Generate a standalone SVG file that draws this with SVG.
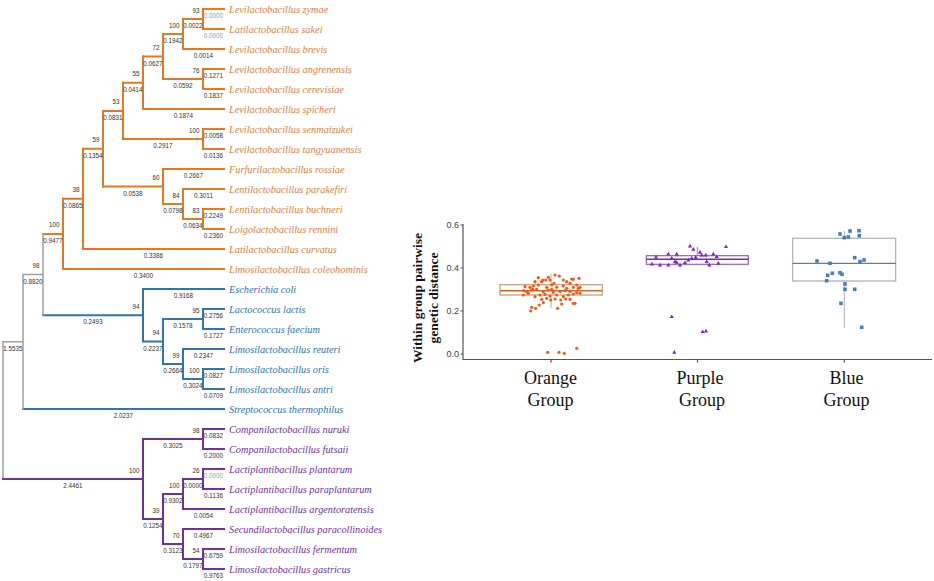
<svg xmlns="http://www.w3.org/2000/svg" width="934" height="581" viewBox="0 0 934 581">
<style>
.o{stroke:#E87722;stroke-width:2;fill:none;stroke-linecap:square}
.b{stroke:#2E75B6;stroke-width:2;fill:none;stroke-linecap:square}
.p{stroke:#7030A0;stroke-width:2;fill:none;stroke-linecap:square}
.g{stroke:#A0A0A0;stroke-width:1.5;fill:none;stroke-linecap:square}
.bl{font-family:"Liberation Sans",Arial,sans-serif;font-size:6.3px;fill:#333;text-anchor:middle}
.bl.z{fill:#9a9a9a}
.bs{font-family:"Liberation Sans",Arial,sans-serif;font-size:6.3px;fill:#333;text-anchor:end}
.lf{font-family:"Liberation Serif","Times New Roman",serif;font-style:italic;font-size:10.3px}
.lo{fill:#E3803F}.lb{fill:#2E74B5}.lp{fill:#7030A0}
.ax{stroke:#555;stroke-width:1.2;fill:none}
.tk{font-family:"Liberation Sans",Arial,sans-serif;font-size:9px;fill:#444;text-anchor:end}
.xl{font-family:"Liberation Serif","Times New Roman",serif;font-size:18px;fill:#111;text-anchor:middle}
.yl{font-family:"Liberation Serif","Times New Roman",serif;font-size:13.5px;font-weight:bold;fill:#111;text-anchor:middle}
</style>
<defs>
<circle id="dot" r="1.6" fill="#F05A14"/>
<path id="tri" d="M0,-2.3 L2.1,1.4 L-2.1,1.4Z" fill="#8020D0"/>
<rect id="sq" x="-1.8" y="-1.8" width="3.6" height="3.6" fill="#4A7EBB"/>
</defs>
<rect width="934" height="581" fill="#fff"/>

<g id="connectors">
<path class="o" d="M203,9H224M203,29H224M183,49H224M203,69H224M203,89H224M143,109H224M203,129H224M203,149H224M163,169H224M183,189H224M203,209H224M203,229H224M83,249H224M63,269H224"/>
<path class="o" d="M203,9V29M183,19V49M203,69V89M163,34V79M143,56.5V109M203,129V149M123,82.75V139M203,209V229M183,189V219M163,169V204M103,110.9V186.5M83,148.7V249M63,198.8V269"/>
<path class="o" d="M183,19H203M163,34H183M163,79H203M143,56.5H163M123,82.75H143M123,139H203M103,110.9H123M103,186.5H163M163,204H183M183,219H203M83,148.7H103M63,198.8H83M43,233.9H63"/>
<path class="b" d="M143,289H224M203,309H224M203,329H224M183,349H224M203,369H224M203,389H224M23,409H224"/>
<path class="b" d="M203,309V329M163,319H203M203,369V389M183,379H203M183,349V379M163,364H183M163,319V364M143,341.5H163M143,289V341.5M43,315.25H143"/>
<path class="g" d="M43,233.9V315.25M23,274.6H43M23,274.6V409M3,341.8H23M3,341.8V479"/>
<path class="p" d="M203,429H224M203,449H224M203,469H224M203,489H224M183,509H224M183,529H224M203,549H224M203,569H224"/>
<path class="p" d="M203,429V449M143,439H203M203,469V489M183,479H203M183,479V509M163,494H183M203,549V569M183,559H203M183,529V559M163,544H183M163,494V544M143,519H163M143,439V519M3,479H143"/>
<g id="branch-lengths">
<text class="bl z" x="213.5" y="18">0.0000</text>
<text class="bl z" x="213.5" y="38">0.0000</text>
<text class="bl" x="193" y="28">0.0022</text>
<text class="bl" x="173" y="43">0.1942</text>
<text class="bl" x="203.5" y="58">0.0014</text>
<text class="bl" x="213.5" y="78">0.1271</text>
<text class="bl" x="213.5" y="98">0.1837</text>
<text class="bl" x="183" y="88">0.0592</text>
<text class="bl" x="153" y="65.5">0.0627</text>
<text class="bl" x="133" y="91.75">0.0414</text>
<text class="bl" x="183.5" y="118">0.1874</text>
<text class="bl" x="113" y="119.9">0.0831</text>
<text class="bl" x="213.5" y="138">0.0058</text>
<text class="bl" x="213.5" y="158">0.0136</text>
<text class="bl" x="163" y="148">0.2917</text>
<text class="bl" x="93" y="157.7">0.1354</text>
<text class="bl" x="193.5" y="178">0.2667</text>
<text class="bl" x="133" y="195.5">0.0538</text>
<text class="bl" x="203.5" y="198">0.3011</text>
<text class="bl" x="173" y="213">0.0798</text>
<text class="bl" x="213.5" y="218">0.2249</text>
<text class="bl" x="213.5" y="238">0.2360</text>
<text class="bl" x="193" y="228">0.0634</text>
<text class="bl" x="73" y="207.8">0.0865</text>
<text class="bl" x="153.5" y="258">0.3386</text>
<text class="bl" x="53" y="242.9">0.9477</text>
<text class="bl" x="143.5" y="278">0.3400</text>
<text class="bl" x="33" y="283.6">0.8820</text>
<text class="bl" x="183.5" y="298">0.9168</text>
<text class="bl" x="93" y="324.25">0.2493</text>
<text class="bl" x="213.5" y="318">0.2756</text>
<text class="bl" x="213.5" y="338">0.1727</text>
<text class="bl" x="183" y="328">0.1578</text>
<text class="bl" x="153" y="350.5">0.2237</text>
<text class="bl" x="203.5" y="358">0.2347</text>
<text class="bl" x="173" y="373">0.2664</text>
<text class="bl" x="213.5" y="378">0.0827</text>
<text class="bl" x="213.5" y="398">0.0709</text>
<text class="bl" x="193" y="388">0.3024</text>
<text class="bl" x="13" y="350.8">1.5535</text>
<text class="bl" x="123.5" y="418">2.0237</text>
<text class="bl" x="213.5" y="438">0.0832</text>
<text class="bl" x="213.5" y="458">0.2000</text>
<text class="bl" x="173" y="448">0.3025</text>
<text class="bl" x="73" y="488">2.4461</text>
<text class="bl z" x="213.5" y="478">0.0000</text>
<text class="bl" x="213.5" y="498">0.1136</text>
<text class="bl" x="193" y="488">0.0000</text>
<text class="bl" x="173" y="503">0.9302</text>
<text class="bl" x="203.5" y="518">0.0054</text>
<text class="bl" x="153" y="528">0.1254</text>
<text class="bl" x="203.5" y="538">0.4967</text>
<text class="bl" x="173" y="553">0.3123</text>
<text class="bl" x="213.5" y="558">0.6759</text>
<text class="bl" x="213.5" y="578">0.9763</text>
<text class="bl" x="193" y="568">0.1797</text>
</g>
</g>

<g id="node-A"><text class="bs" x="199.5" y="12.5">93</text></g>
<g id="node-B"><text class="bs" x="179.5" y="27.5">100</text></g>
<g id="node-C"><text class="bs" x="199.5" y="72.5">76</text></g>
<g id="node-D"><text class="bs" x="159.5" y="50">72</text></g>
<g id="node-E"><text class="bs" x="139.5" y="76.25">55</text></g>
<g id="node-F"><text class="bs" x="199.5" y="132.5">100</text></g>
<g id="node-G"><text class="bs" x="119.5" y="104.4">53</text></g>
<g id="node-K"><text class="bs" x="99.5" y="142.2">59</text></g>
<g id="node-J"><text class="bs" x="159.5" y="180">60</text></g>
<g id="node-I"><text class="bs" x="179.5" y="197.5">84</text></g>
<g id="node-H"><text class="bs" x="199.5" y="212.5">83</text></g>
<g id="node-L"><text class="bs" x="79.5" y="192.3">38</text></g>
<g id="node-M"><text class="bs" x="59.5" y="227.4">100</text></g>
<g id="node-S"><text class="bs" x="39.5" y="268.1">98</text></g>
<g id="node-R"><text class="bs" x="139.5" y="308.75">94</text></g>
<g id="node-N"><text class="bs" x="199.5" y="312.5">95</text></g>
<g id="node-Q"><text class="bs" x="159.5" y="335">94</text></g>
<g id="node-P"><text class="bs" x="179.5" y="357.5">99</text></g>
<g id="node-O"><text class="bs" x="199.5" y="372.5">100</text></g>
<g id="node-U"><text class="bs" x="199.5" y="432.5">98</text></g>
<g id="node-AA"><text class="bs" x="139.5" y="472.5">100</text></g>
<g id="node-V"><text class="bs" x="199.5" y="472.5">26</text></g>
<g id="node-W"><text class="bs" x="179.5" y="487.5">100</text></g>
<g id="node-Z"><text class="bs" x="159.5" y="512.5">39</text></g>
<g id="node-Y"><text class="bs" x="179.5" y="537.5">70</text></g>
<g id="node-X"><text class="bs" x="199.5" y="552.5">54</text></g>

<g id="leaf-1"><text class="lf lo" x="229" y="12.5">Levilactobacillus zymae</text></g>
<g id="leaf-2"><text class="lf lo" x="229" y="32.5">Latilactobacillus sakei</text></g>
<g id="leaf-3"><text class="lf lo" x="229" y="52.5">Levilactobacillus brevis</text></g>
<g id="leaf-4"><text class="lf lo" x="229" y="72.5">Levilactobacillus angrenensis</text></g>
<g id="leaf-5"><text class="lf lo" x="229" y="92.5">Levilactobacillus cerevisiae</text></g>
<g id="leaf-6"><text class="lf lo" x="229" y="112.5">Levilactobacillus spicheri</text></g>
<g id="leaf-7"><text class="lf lo" x="229" y="132.5">Levilactobacillus senmaizukei</text></g>
<g id="leaf-8"><text class="lf lo" x="229" y="152.5">Levilactobacillus tangyuanensis</text></g>
<g id="leaf-9"><text class="lf lo" x="229" y="172.5">Furfurilactobacillus rossiae</text></g>
<g id="leaf-10"><text class="lf lo" x="229" y="192.5">Lentilactobacillus parakefiri</text></g>
<g id="leaf-11"><text class="lf lo" x="229" y="212.5">Lentilactobacillus buchneri</text></g>
<g id="leaf-12"><text class="lf lo" x="229" y="232.5">Loigolactobacillus rennini</text></g>
<g id="leaf-13"><text class="lf lo" x="229" y="252.5">Latilactobacillus curvatus</text></g>
<g id="leaf-14"><text class="lf lo" x="229" y="272.5">Limosilactobacillus coleohominis</text></g>
<g id="leaf-15"><text class="lf lb" x="229" y="292.5">Escherichia coli</text></g>
<g id="leaf-16"><text class="lf lb" x="229" y="312.5">Lactococcus lactis</text></g>
<g id="leaf-17"><text class="lf lb" x="229" y="332.5">Enterococcus faecium</text></g>
<g id="leaf-18"><text class="lf lb" x="229" y="352.5">Limosilactobacillus reuteri</text></g>
<g id="leaf-19"><text class="lf lb" x="229" y="372.5">Limosilactobacillus oris</text></g>
<g id="leaf-20"><text class="lf lb" x="229" y="392.5">Limosilactobacillus antri</text></g>
<g id="leaf-21"><text class="lf lb" x="229" y="412.5">Streptococcus thermophilus</text></g>
<g id="leaf-22"><text class="lf lp" x="229" y="432.5">Companilactobacillus nuruki</text></g>
<g id="leaf-23"><text class="lf lp" x="229" y="452.5">Companilactobacillus futsaii</text></g>
<g id="leaf-24"><text class="lf lp" x="229" y="472.5">Lactiplantibacillus plantarum</text></g>
<g id="leaf-25"><text class="lf lp" x="229" y="492.5">Lactiplantibacillus paraplantarum</text></g>
<g id="leaf-26"><text class="lf lp" x="229" y="512.5">Lactiplantibacillus argentoratensis</text></g>
<g id="leaf-27"><text class="lf lp" x="229" y="532.5">Secundilactobacillus paracollinoides</text></g>
<g id="leaf-28"><text class="lf lp" x="229" y="552.5">Limosilactobacillus fermentum</text></g>
<g id="leaf-29"><text class="lf lp" x="229" y="572.5">Limosilactobacillus gastricus</text></g>

<g id="chart">
<path class="ax" d="M463,224V359.5H932"/>
<path class="ax" d="M460.5,225H463M460.5,268H463M460.5,311H463M460.5,354H463M551,359.5V362.5M697.5,359.5V362.5M844.3,359.5V362.5"/>
<text class="tk" x="459" y="228.2">0.6</text>
<text class="tk" x="459" y="271.2">0.4</text>
<text class="tk" x="459" y="314.2">0.2</text>
<text class="tk" x="459" y="357.2">0.0</text>
<text class="yl" transform="translate(422,298) rotate(-90)">Within group pairwise</text>
<text class="yl" transform="translate(438,298) rotate(-90)">genetic distance</text>
<text class="xl" x="550.5" y="384">Orange</text>
<text class="xl" x="550.5" y="406">Group</text>
<text class="xl" x="700" y="384">Purple</text>
<text class="xl" x="702" y="406">Group</text>
<text class="xl" x="846.5" y="384">Blue</text>
<text class="xl" x="846.5" y="406">Group</text>

<g id="box-orange">
<path d="M551,274V284.7M551,295V308" stroke="#C0A890" stroke-width="1" fill="none"/>
<rect x="500" y="284.7" width="102.3" height="10.3" fill="none" stroke="#C8A080" stroke-width="1.3"/>
<path d="M500,290.7H602.3" stroke="#D0661E" stroke-width="1.5"/>
<use href="#dot" x="530.7" y="311"/><use href="#dot" x="531.7" y="307.3"/><use href="#dot" x="535.7" y="308.3"/><use href="#dot" x="539.3" y="305"/><use href="#dot" x="543.3" y="302.7"/><use href="#dot" x="550.7" y="300"/><use href="#dot" x="557.7" y="308.3"/><use href="#dot" x="561.7" y="304"/><use href="#dot" x="565.7" y="299"/><use href="#dot" x="573.3" y="303.3"/><use href="#dot" x="575" y="303.3"/><use href="#dot" x="555" y="275"/><use href="#dot" x="559.3" y="276"/><use href="#dot" x="579" y="278.3"/><use href="#dot" x="573.3" y="279.3"/><use href="#dot" x="538.3" y="277.7"/><use href="#dot" x="545.7" y="280"/><use href="#dot" x="550" y="280"/><use href="#dot" x="535" y="281.7"/><use href="#dot" x="541.7" y="281.7"/><use href="#dot" x="566.7" y="281.7"/><use href="#dot" x="570" y="283.3"/><use href="#dot" x="525" y="286.7"/><use href="#dot" x="530" y="287.3"/><use href="#dot" x="533.3" y="286"/><use href="#dot" x="546.7" y="287.3"/><use href="#dot" x="551.7" y="285"/><use href="#dot" x="556.7" y="287.3"/><use href="#dot" x="563.3" y="286"/><use href="#dot" x="573.3" y="287.3"/><use href="#dot" x="578.3" y="288.3"/><use href="#dot" x="524" y="290.7"/><use href="#dot" x="531.7" y="290"/><use href="#dot" x="536.7" y="289.3"/><use href="#dot" x="543.3" y="291.7"/><use href="#dot" x="548.3" y="290"/><use href="#dot" x="553.3" y="292.3"/><use href="#dot" x="560" y="291.7"/><use href="#dot" x="565" y="290.7"/><use href="#dot" x="570" y="291.7"/><use href="#dot" x="576.7" y="292.7"/><use href="#dot" x="580" y="293.3"/><use href="#dot" x="523.3" y="295"/><use href="#dot" x="528.3" y="293.3"/><use href="#dot" x="540" y="295"/><use href="#dot" x="545" y="294.3"/><use href="#dot" x="550" y="296"/><use href="#dot" x="556.7" y="295"/><use href="#dot" x="563.3" y="296.7"/><use href="#dot" x="568.3" y="295"/><use href="#dot" x="573.3" y="294"/><use href="#dot" x="541.7" y="299.3"/><use href="#dot" x="546.7" y="298.3"/><use href="#dot" x="535" y="296.7"/><use href="#dot" x="555" y="299"/><use href="#dot" x="560.7" y="300"/><use href="#dot" x="570" y="299.3"/><use href="#dot" x="526.7" y="291.7"/><use href="#dot" x="551.7" y="289.3"/><use href="#dot" x="566.7" y="288.3"/><use href="#dot" x="538.3" y="285"/><use href="#dot" x="548.3" y="277.3"/><use href="#dot" x="563.3" y="280"/><use href="#dot" x="542.7" y="280"/><use href="#dot" x="532.7" y="289.3"/><use href="#dot" x="576.7" y="285"/><use href="#dot" x="554" y="283.3"/><use href="#dot" x="580" y="287.3"/><use href="#dot" x="571.7" y="279"/>
<use href="#dot" x="547.7" y="352.3"/><use href="#dot" x="559" y="352.3"/><use href="#dot" x="564.3" y="353.3"/><use href="#dot" x="576.7" y="348.3"/>
</g>

<g id="box-purple">
<path d="M697.3,246.7V255.7" stroke="#9A80B0" stroke-width="1" fill="none"/>
<rect x="646.3" y="255.7" width="102" height="8.6" fill="none" stroke="#9060B8" stroke-width="1.2"/>
<path d="M646.3,259.3H748.3" stroke="#7030A0" stroke-width="1.5"/>
<use href="#tri" x="668.3" y="254"/><use href="#tri" x="676.7" y="254"/><use href="#tri" x="690" y="246"/><use href="#tri" x="693.3" y="249.3"/><use href="#tri" x="700" y="252.3"/><use href="#tri" x="705.7" y="255"/><use href="#tri" x="713.3" y="254"/><use href="#tri" x="716.7" y="256.7"/><use href="#tri" x="726" y="246.7"/><use href="#tri" x="695.7" y="257.3"/><use href="#tri" x="688.3" y="260"/><use href="#tri" x="691.7" y="258.3"/><use href="#tri" x="671.7" y="258.3"/><use href="#tri" x="675" y="261.7"/><use href="#tri" x="676.7" y="262.3"/><use href="#tri" x="680" y="265"/><use href="#tri" x="685" y="262.7"/><use href="#tri" x="668.3" y="265"/><use href="#tri" x="706.7" y="261.7"/><use href="#tri" x="709.3" y="265"/><use href="#tri" x="718.3" y="263.3"/><use href="#tri" x="701.7" y="255"/><use href="#tri" x="660" y="265"/><use href="#tri" x="652" y="264"/><use href="#tri" x="656" y="257"/>
<use href="#tri" x="671.7" y="316.7"/><use href="#tri" x="702.7" y="331.7"/><use href="#tri" x="706" y="331"/><use href="#tri" x="674.3" y="352.3"/>
</g>

<g id="box-blue">
<path d="M844.3,231V238.3M844.3,281V327.7" stroke="#A8B0B8" stroke-width="1" fill="none"/>
<rect x="792.7" y="238.3" width="103" height="42.7" fill="none" stroke="#A8B0B8" stroke-width="1.2"/>
<path d="M792.7,263.3H895.7" stroke="#5580B0" stroke-width="1.3"/>
<use href="#sq" x="840" y="234"/><use href="#sq" x="850" y="231"/><use href="#sq" x="859" y="230.7"/><use href="#sq" x="859.3" y="235.7"/><use href="#sq" x="844.3" y="237.7"/><use href="#sq" x="848.3" y="237"/><use href="#sq" x="817" y="261"/><use href="#sq" x="830" y="263.3"/><use href="#sq" x="854.7" y="257.7"/><use href="#sq" x="860" y="261.7"/><use href="#sq" x="864" y="260"/><use href="#sq" x="832.3" y="273.3"/><use href="#sq" x="827.7" y="275.3"/><use href="#sq" x="840" y="272.7"/><use href="#sq" x="842" y="274.3"/><use href="#sq" x="826.7" y="280.7"/><use href="#sq" x="845" y="284"/><use href="#sq" x="845" y="289.3"/><use href="#sq" x="854.7" y="289.3"/><use href="#sq" x="841" y="303.3"/><use href="#sq" x="861.7" y="327.3"/>
</g>
</g>
</svg>
